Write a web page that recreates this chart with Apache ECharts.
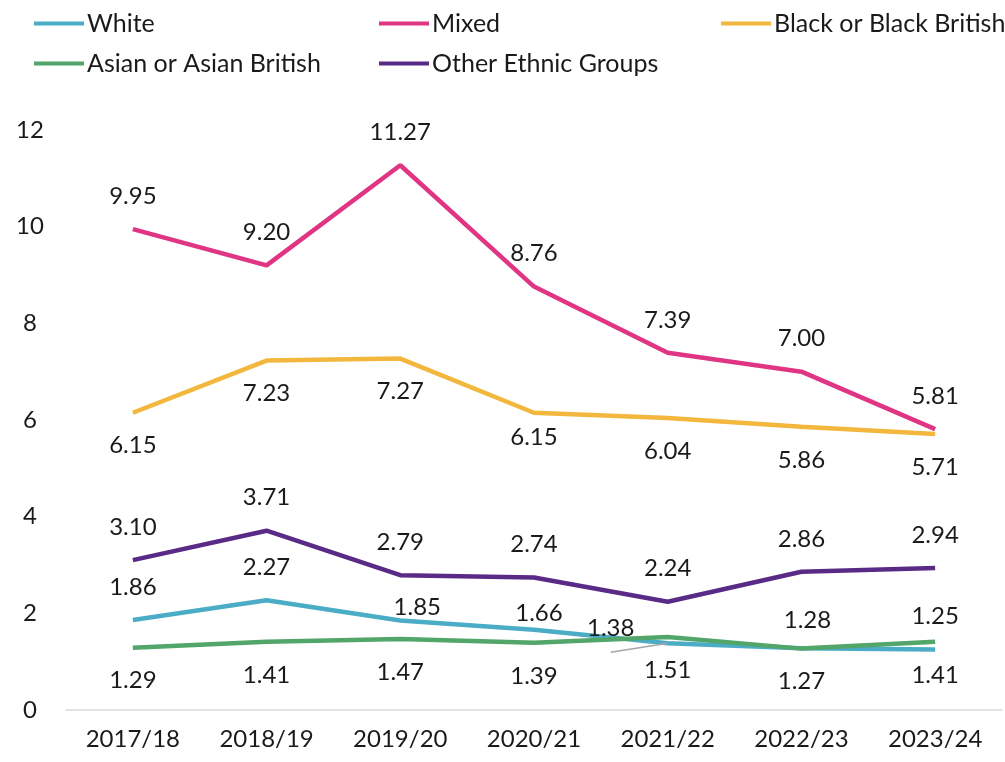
<!DOCTYPE html>
<html>
<head>
<meta charset="utf-8">
<script src="https://cdn.jsdelivr.net/npm/echarts@6/dist/echarts.min.js"></script>
<style>
  html, body { margin: 0; padding: 0; background: #fff; }
  #chart { width: 1005px; height: 762px; }
</style>
</head>
<body>
<div id="chart"></div>
<script>
const years = ['2017/18', '2018/19', '2019/20', '2020/21', '2021/22', '2022/23', '2023/24']
const white = [1.86, 2.27, 1.85, 1.66, 1.38, 1.28, 1.25]
const mixed = [9.95, 9.20, 11.27, 8.76, 7.39, 7.00, 5.81]
const black = [6.15, 7.23, 7.27, 6.15, 6.04, 5.86, 5.71]
const asian = [1.29, 1.41, 1.47, 1.39, 1.51, 1.27, 1.41]
const other = [3.10, 3.71, 2.79, 2.74, 2.24, 2.86, 2.94]
const yTicks = [0, 2, 4, 6, 8, 10, 12]

const font = 'Lato, "Open Sans", sans-serif'
const labelStyle = { color: '#1a1a1a', fontSize: 24, fontFamily: font }

const chart = echarts.init(document.getElementById('chart'))

const makeSeries = (name, data, color, pos) => ({
  name,
  type: 'line',
  data,
  symbol: 'circle',
  symbolSize: 0,
  showSymbol: true,
  lineStyle: { width: 4.5, color },
  itemStyle: { color },
  label: { show: true, position: pos, distance: 21, formatter: p => p.value.toFixed(2), ...labelStyle }
})

const legendItem = (name, left, top) => ({
  data: [name],
  left,
  top,
  itemWidth: 50,
  itemHeight: 4,
  itemGap: 0,
  icon: 'rect',
  textStyle: { fontSize: 25, color: '#1a1a1a', fontFamily: font, padding: [0, 0, 0, -2] }
})

// a few labels were nudged in the original to avoid overlaps
const whiteOffsets = { 2: [17, 20], 3: [5, 16], 4: [-57, 18], 5: [6, 5] }

const whiteSeries = makeSeries('White', white, '#4bacc6', 'top')
whiteSeries.labelLine = { show: true, lineStyle: { color: '#a6a6a6', width: 1.5 } }
whiteSeries.data = white.map((v, i) => ({
  value: v,
  label: whiteOffsets[i] ? { offset: whiteOffsets[i] } : {},
  labelLine: { show: i === 4 }
}))

const blackSeries = makeSeries('Black or Black British', black, '#f2b73c', 'bottom')
blackSeries.data = black.map((v, i) => i === 3 ? { value: v, label: { offset: [0, -8] } } : v)

const option = {
  animation: false,
  legend: [
    legendItem('White', 29, 6),
    legendItem('Mixed', 374, 6),
    legendItem('Black or Black British', 716, 6),
    legendItem('Asian or Asian British', 29, 46),
    legendItem('Other Ethnic Groups', 374, 46)
  ],
  grid: { left: 66, right: 3, top: 130, bottom: 52, containLabel: false },
  xAxis: {
    type: 'category',
    data: years,
    boundaryGap: true,
    axisLine: { lineStyle: { color: '#d9d9d9', width: 1.5 } },
    axisTick: { show: false },
    axisLabel: { color: '#1a1a1a', fontSize: 24, fontFamily: font, margin: 17 }
  },
  yAxis: {
    type: 'value',
    min: yTicks[0],
    max: yTicks[yTicks.length - 1],
    interval: 2,
    axisLine: { show: false },
    axisTick: { show: false },
    splitLine: { show: false },
    axisLabel: { color: '#1a1a1a', fontSize: 24, fontFamily: font, margin: 36, align: 'center' }
  },
  series: [
    whiteSeries,
    makeSeries('Mixed', mixed, '#df3583', 'top'),
    blackSeries,
    makeSeries('Asian or Asian British', asian, '#52a66a', 'bottom'),
    makeSeries('Other Ethnic Groups', other, '#5a2b86', 'top')
  ]
}

chart.setOption(option)
</script>
</body>
</html>
